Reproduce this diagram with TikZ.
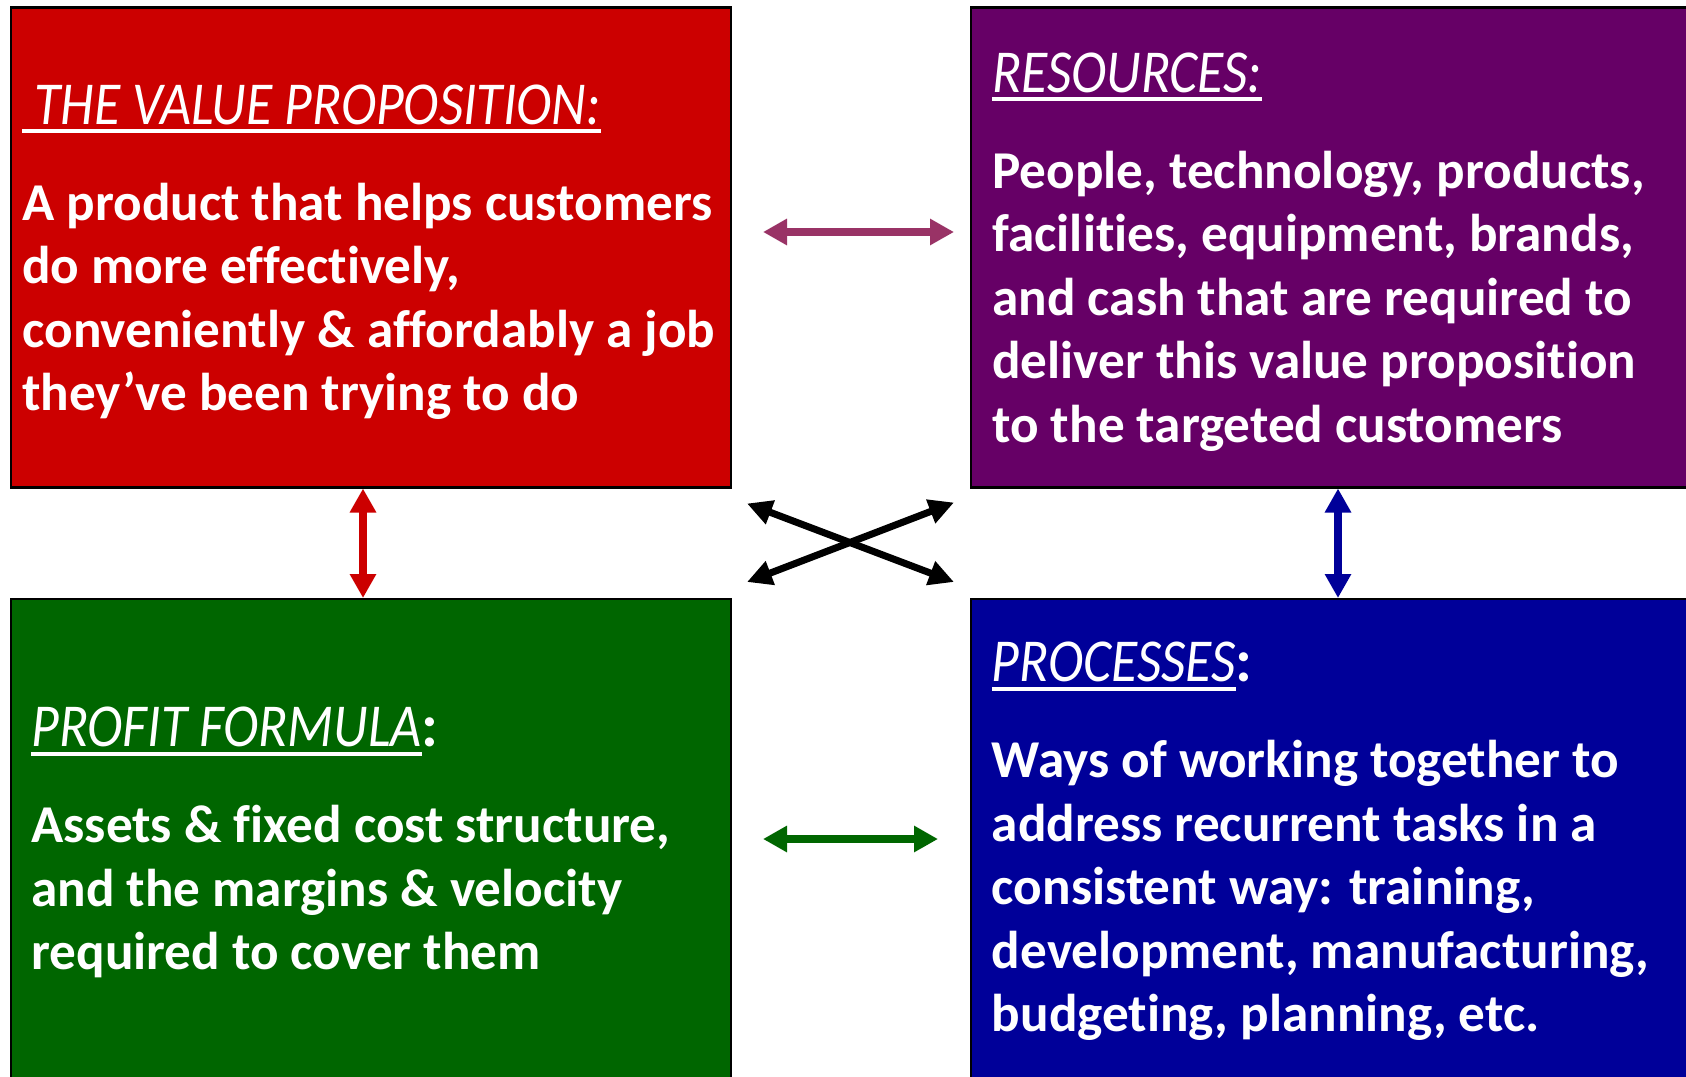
\documentclass[tikz,border=0pt]{standalone}
\usepackage{fontspec}
\setmainfont{Carlito}[Ligatures={NoCommon}]
\newfontfamily\headfont[FakeStretch=0.88,Ligatures={NoCommon}]{Carlito}
\usetikzlibrary{positioning}
\usetikzlibrary{arrows.meta}
\definecolor{vpred}{RGB}{204,0,0}
\definecolor{respurple}{RGB}{102,0,102}
\definecolor{pfgreen}{RGB}{0,102,0}
\definecolor{procblue}{RGB}{0,0,153}
\definecolor{linkpurple}{RGB}{153,51,102}
% underlined heading, rule a bit below the baseline
\newcommand{\hdul}[1]{\setbox0\hbox{#1}\rlap{\rule[-4.5pt]{\wd0}{2pt}}\box0}
\newcommand{\hdfont}{\headfont\mdseries\itshape\fontsize{30.5pt}{31.75pt}\selectfont}

\begin{document}
\begin{tikzpicture}[x=0.5pt,y=-0.5pt,
    box/.style={draw=black, line width=1.2pt, minimum width=360pt, minimum height=240pt, inner sep=0pt, outer sep=0pt},
    boxtext/.style={anchor=west, align=left, text=white, inner sep=0pt, font=\fontsize{26.6pt}{31.75pt}\selectfont\bfseries},
    link/.style={line width=4.25pt, {Triangle[length=12pt,width=12.5pt]}-{Triangle[length=12pt,width=12.5pt]}},
    cross/.style={line width=3.5pt, {Triangle[length=12.5pt,width=12pt]}-{Triangle[length=12.5pt,width=12pt]}}]
  \useasboundingbox (0,0) rectangle (1686,1076);
  % the four blocks
  \node[box, fill=vpred, anchor=north west] (vp) at (11,7.5) {};
  \node[box, fill=respurple, right=120pt of vp] (res) {};
  \node[box, fill=pfgreen, below=55.75pt of vp] (pf) {};
  \node[box, fill=procblue, right=120pt of pf] (proc) {};
  % texts
  \node[boxtext] (vptext) at ([shift={(11,4.5)}]vp.west) {\hdul{\hdfont\ THE VALUE PROPOSITION:}\\[16.25pt]
    A product that helps customers\\
    do more effectively,\\
    conveniently \& affordably a job\\
    they’ve been trying to do};
  \node[boxtext] (restext) at ([shift={(21,4.5)}]res.west) {\hdul{\hdfont RESOURCES:}\\[16.25pt]
    People, technology, products,\\
    facilities, equipment, brands,\\
    and cash that are required to\\
    deliver this value proposition\\
    to the targeted customers};
  \node[boxtext] (pftext) at ([shift={(20,3.5)}]pf.west) {\hdul{\hdfont PROFIT FORMULA}{\fontsize{30.5pt}{31.75pt}\selectfont:}\\[16.25pt]
    Assets \& fixed cost structure,\\
    and the margins \& velocity\\
    required to cover them};
  \node[boxtext] (proctext) at ([shift={(20.5,2.5)}]proc.west) {\hdul{\hdfont PROCESSES}{\fontsize{30.5pt}{31.75pt}\selectfont:}\\[16.25pt]
    Ways of working together to\\
    address recurrent tasks in a\\
    consistent way: training,\\
    development, manufacturing,\\
    budgeting, planning, etc.};
  % links
  \draw[link, linkpurple] ([shift={(32,-15.5)}]vp.east) -- ([shift={(-17,-15.5)}]res.west);
  \draw[link, pfgreen] ([xshift=16pt]pf.east) -- ([xshift=-16.5pt]proc.west);
  \draw[link, vpred] ([shift={(-8,1)}]vp.south) -- ([shift={(-8,-1)}]pf.north);
  \draw[link, procblue] ([shift={(7,1)}]res.south) -- ([shift={(7,-1)}]proc.north);
  \draw[cross] ([shift={(16,16)}]vp.south east) -- ([shift={(-17,-17)}]proc.north west);
  \draw[cross] ([shift={(16,-17)}]pf.north east) -- ([shift={(-17,15)}]res.south west);
\end{tikzpicture}
\end{document}
